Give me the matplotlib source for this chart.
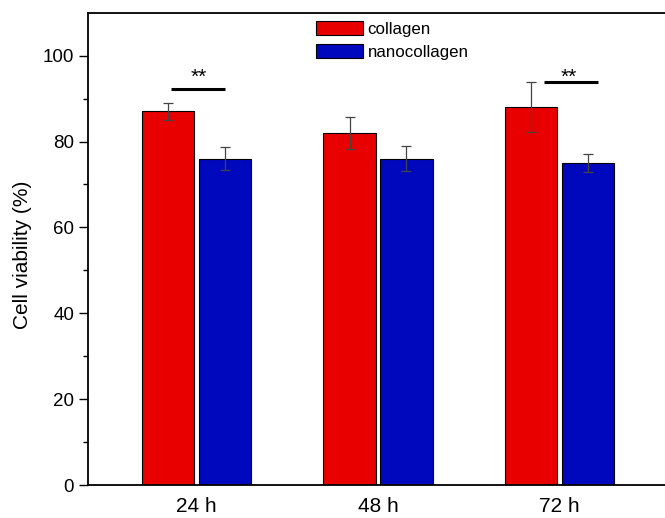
import matplotlib
matplotlib.use('Agg')
import matplotlib.pyplot as plt
import numpy as np

plt.rcParams['font.family'] = ['Liberation Sans', 'DejaVu Sans']

groups = ['24 h', '48 h', '72 h']
collagen = [87, 82, 88]
collagen_err = [1.9, 3.8, 5.8]
nanocollagen = [76, 76, 75]
nanocollagen_err = [2.7, 2.9, 2.2]

# significance bars: (x start, x end, y line, x stars, y stars)
sig_marks = [(0.858, 1.155, 92.3, 1.01, 95.0),
             (2.913, 3.214, 93.9, 3.05, 95.0)]

red = '#E80000'
blue = '#0008BE'

fig = plt.figure(figsize=(6.65, 5.18), dpi=100)
ax = fig.add_axes([88 / 665, 1 - 485 / 518, 580 / 665, (485 - 12.7) / 518])

x = np.arange(1, len(groups) + 1)
width = 0.287
offset = 0.157

ax.bar(x - offset, collagen, width, color=red, edgecolor='black', linewidth=0.8,
       label='collagen', zorder=2)
ax.bar(x + offset, nanocollagen, width, color=blue, edgecolor='black', linewidth=0.8,
       label='nanocollagen', zorder=2)
ax.errorbar(x - offset, collagen, yerr=collagen_err, fmt='none', ecolor='#444444',
            elinewidth=0.9, capsize=3.5, capthick=0.9, zorder=3)
ax.errorbar(x + offset, nanocollagen, yerr=nanocollagen_err, fmt='none', ecolor='#444444',
            elinewidth=0.9, capsize=3.5, capthick=0.9, zorder=3)

for x0, x1, yl, xs, ys in sig_marks:
    ax.plot([x0, x1], [yl, yl], color='black', lw=2.2, solid_capstyle='butt')
    ax.text(xs, ys, '**', ha='center', va='center', fontsize=15)

ax.set_xlim(0.402, 3.598)
ax.set_ylim(0, 110)
ax.set_xticks(x)
ax.set_xticklabels(groups, fontsize=15)
ax.tick_params(axis='x', length=0, pad=9)
ax.set_yticks([0, 20, 40, 60, 80, 100])
ax.set_yticks([10, 30, 50, 70, 90], minor=True)
ax.tick_params(axis='y', which='major', length=6.5, width=1, labelsize=13.5, direction='out')
ax.tick_params(axis='y', which='minor', length=3.5, width=1, direction='out')
ax.set_ylabel('Cell viability (%)', fontsize=15)
ax.yaxis.set_label_coords(-0.097, 0.487)

ax.spines['right'].set_visible(False)
for s in ['left', 'top', 'bottom']:
    ax.spines[s].set_linewidth(1.3)

ax.legend(loc='upper left', bbox_to_anchor=(316 / 665, 1 - 21 / 518),
          bbox_transform=fig.transFigure, frameon=False, fontsize=12.2,
          handlelength=2.75, handleheight=0.9, handletextpad=0.3,
          labelspacing=0.42, borderpad=0, borderaxespad=0)

fig.savefig('out.png', dpi=100)
